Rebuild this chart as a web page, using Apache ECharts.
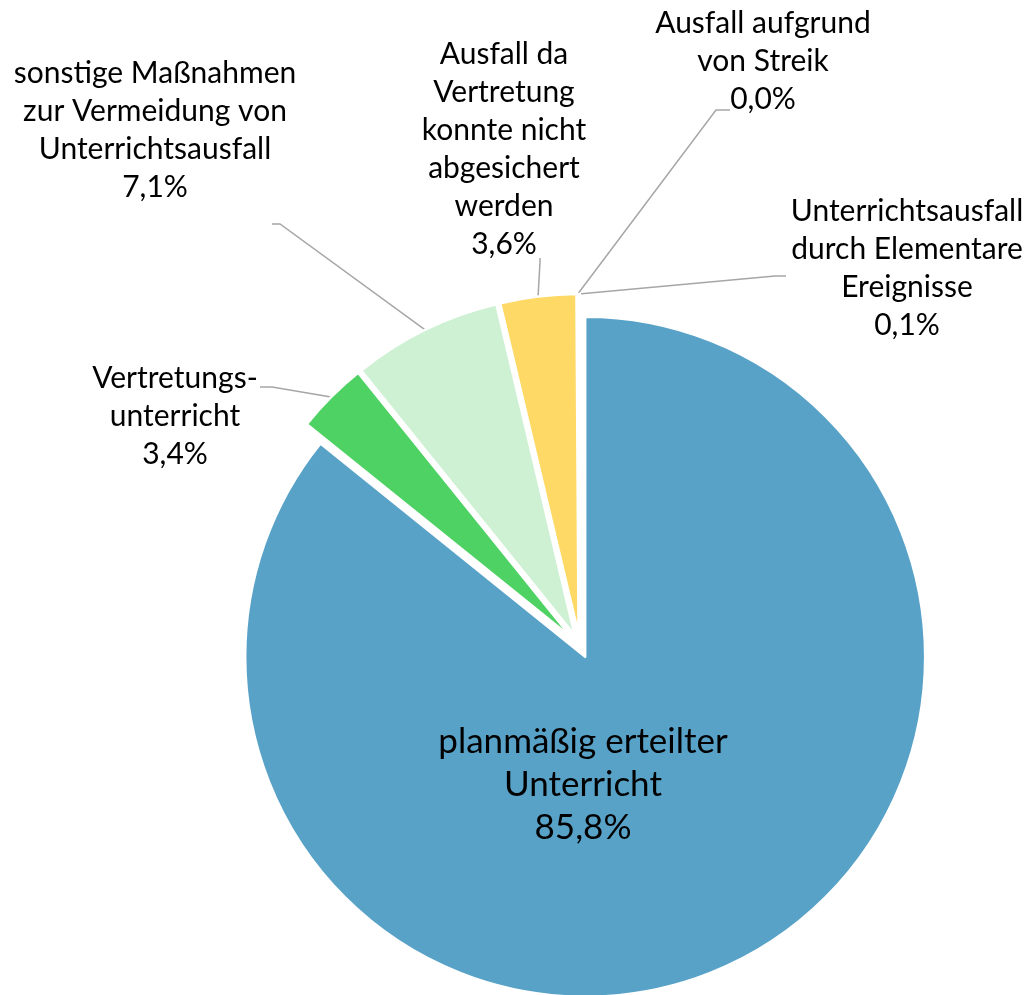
<!DOCTYPE html>
<html><head><meta charset="utf-8">
<script src="https://cdn.jsdelivr.net/npm/echarts@6/dist/echarts.min.js"></script>
<style>html,body{margin:0;padding:0;background:#fff}#c{width:1029px;height:995px}</style>
</head><body><div id="c"></div>
<script>
const categories = [
  'planmäßig erteilter\nUnterricht',
  'Vertretungs-\nunterricht',
  'sonstige Maßnahmen\nzur Vermeidung von\nUnterrichtsausfall',
  'Ausfall da\nVertretung\nkonnte nicht\nabgesichert\nwerden',
  'Ausfall aufgrund\nvon Streik',
  'Unterrichtsausfall\ndurch Elementare\nEreignisse'
];
const shares = [85.8, 3.4, 7.1, 3.6, 0.0, 0.1];
const colors = ['#58A2C8', '#4ED263', '#CEF1D3', '#FFD966', '#F4B183', '#A5A5A5'];

const labelSpots = [
  {x: 583, y: 785},
  {x: 175, y: 416, line: [[272, 387], [260, 387]]},
  {x: 155, y: 130, line: [[280, 224], [272, 224]]},
  {x: 504, y: 149, line: [[540, 262], [540, 258]]},
  {x: 763, y: 61, line: [[716, 110], [730, 110]]},
  {x: 907, y: 268, line: [[775, 276], [786, 276]]}
];

const baseCenter = [580, 646];
const explode = 12;
const total = shares.reduce((a, b) => a + b, 0);
const fmt = p => p.name + '\n' + p.value.toFixed(1).replace('.', ',') + '%';

let cum = 0;
const series = shares.map((v, k) => {
  const mid = 2 * Math.PI * (cum + v / 2) / total;
  cum += v;
  const cx = baseCenter[0] + explode * Math.sin(mid);
  const cy = baseCenter[1] - explode * Math.cos(mid);
  return {
    type: 'pie',
    z: 2,
    center: [cx, cy],
    radius: 340,
    startAngle: 90,
    clockwise: true,
    avoidLabelOverlap: false,
    silent: true,
    emphasis: {disabled: true},
    label: {
      show: true, position: 'outside', formatter: fmt,
      fontFamily: 'Lato', fontSize: 30, lineHeight: 38, color: '#000', align: 'center'
    },
    labelLine: {show: true, length: 20, length2: 10, lineStyle: {color: '#A6A6A6', width: 1.5}},
    labelLayout: function (p) {
      if (p.dataIndex !== k) return {};
      const s = labelSpots[k];
      const out = {x: s.x, y: s.y, align: 'center', verticalAlign: 'middle'};
      if (s.line && p.labelLinePoints) {
        out.labelLinePoints = [p.labelLinePoints[0], s.line[0], s.line[1]];
      }
      return out;
    },
    data: shares.map((w, i) => {
      const own = i === k;
      return {
        name: categories[i],
        value: w,
        itemStyle: own ? {color: colors[i], borderColor: '#fff', borderWidth: 2.5}
                       : {color: 'rgba(0,0,0,0)', borderWidth: 0},
        label: !own ? {show: false}
             : (i === 0 ? {position: 'inside', fontSize: 35, lineHeight: 43} : {}),
        labelLine: {show: own && i !== 0}
      };
    })
  };
});

const chart = echarts.init(document.getElementById('c'), null, {renderer: 'canvas'});
chart.setOption({animation: false, series: series});
</script>
</body></html>
